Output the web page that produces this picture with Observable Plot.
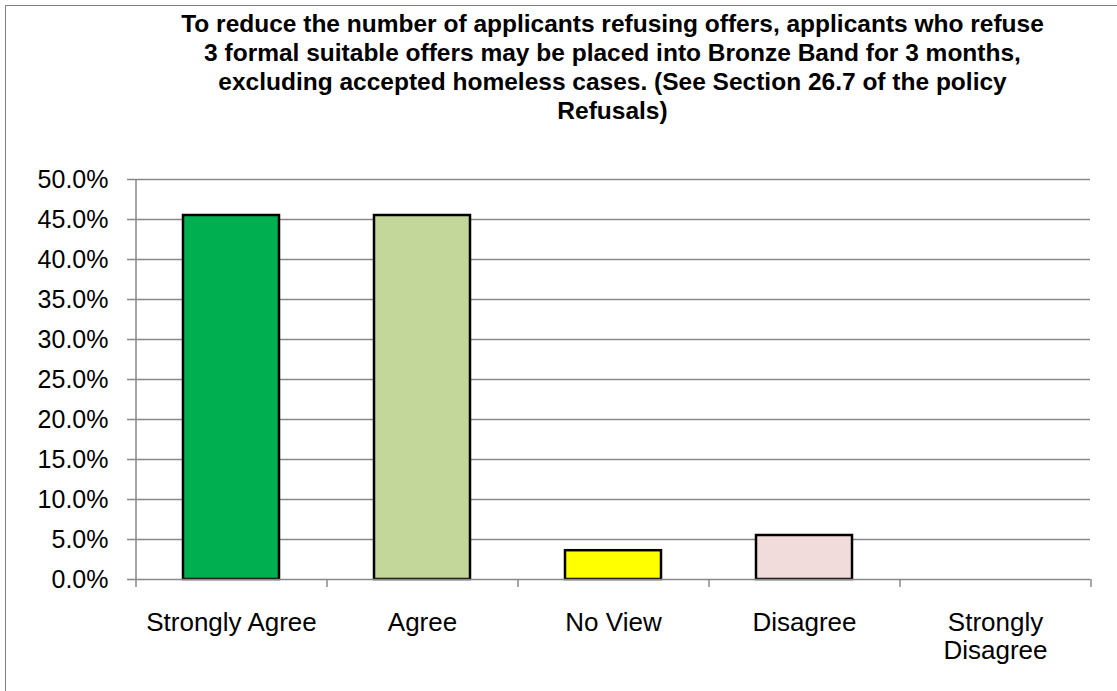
<!DOCTYPE html>
<html>
<head>
<meta charset="utf-8">
<script src="https://cdn.jsdelivr.net/npm/d3@7"></script>
<script src="https://cdn.jsdelivr.net/npm/@observablehq/plot@0.6"></script>
<style>
  html, body { margin: 0; padding: 0; background: #fff; overflow: hidden; }
  #wrap { position: relative; width: 1117px; height: 691px; font-family: "Liberation Sans", Arial, sans-serif; }
  #frame { position: absolute; left: 5px; top: 5px; width: 1200px; height: 800px; border-left: 1.5px solid #7f7f7f; border-top: 1.5px solid #7f7f7f; }
  #title { position: absolute; left: 135px; top: 9px; width: 955px; text-align: center; font-weight: bold; font-size: 24.5px; line-height: 29px; white-space: nowrap; color: #000; }
  #chart { position: absolute; left: 0; top: 140px; }
</style>
</head>
<body>
<div id="wrap">
  <div id="frame"></div>
  <div id="title"></div>
  <div id="chart"></div>
</div>
<script>
const titleLines = [
  "To reduce the number of applicants refusing offers, applicants who refuse",
  "3 formal suitable offers may be placed into Bronze Band for 3 months,",
  "excluding accepted homeless cases. (See Section 26.7 of the policy",
  "Refusals)"
];
const categories = ["Strongly Agree", "Agree", "No View", "Disagree", "Strongly Disagree"];
const tickLabels = ["Strongly Agree", "Agree", "No View", "Disagree", "Strongly\nDisagree"];
const values = [45.5, 45.5, 3.6, 5.5, 0];
const colors = ["#00B050", "#C4D79B", "#FFFF00", "#F2DCDB", "#FFFFFF"];
const yTicks = [0, 5, 10, 15, 20, 25, 30, 35, 40, 45, 50];

document.getElementById("title").innerHTML = titleLines.join("<br>");

const data = categories.map((c, i) => ({cat: c, value: values[i], color: colors[i]}));

const width = 1117, height = 551;
const marginLeft = 135, marginRight = 27, marginTop = 39, marginBottom = 112;
const halfStep = (width - marginLeft - marginRight) / categories.length / 2;
const labelOf = new Map(categories.map((c, i) => [c, tickLabels[i]]));

const chart = Plot.plot({
  width, height, marginLeft, marginRight, marginTop, marginBottom,
  style: {fontFamily: "'Liberation Sans', Arial, sans-serif", fontSize: "25px", color: "#000", background: "transparent"},
  x: {type: "band", domain: categories, paddingInner: 0.5, paddingOuter: 0.25, label: null},
  y: {domain: [0, 50], label: null},
  marks: [
    Plot.ruleY(yTicks.filter(d => d > 0), {stroke: "#888", strokeWidth: 1.5}),
    Plot.ruleX([categories[0]], {y1: 0, y2: 50, dx: -halfStep, stroke: "#888", strokeWidth: 1.5}),
    Plot.barY(data, {filter: d => d.value > 0, x: "cat", y: "value", fill: "color", stroke: "#000", strokeWidth: 2.5}),
    Plot.ruleY([0], {stroke: "#888", strokeWidth: 1.5}),
    Plot.axisY(yTicks, {tickSize: 8, tickPadding: 19, stroke: "#888", strokeWidth: 1.5, fill: "#000", fontSize: 25, tickFormat: d => d.toFixed(1) + "%"}),
    Plot.axisX(categories, {tickSize: 8, dx: -halfStep, stroke: "#888", strokeWidth: 1.5, tickFormat: () => ""}),
    Plot.axisX([categories[categories.length - 1]], {tickSize: 8, dx: halfStep, stroke: "#888", strokeWidth: 1.5, tickFormat: () => ""}),
    Plot.axisX(categories, {tickSize: 0, tickPadding: 31, fill: "#000", fontSize: 26, lineHeight: 1.1, tickFormat: d => labelOf.get(d)})
  ]
});
document.getElementById("chart").appendChild(chart);
</script>
</body>
</html>
